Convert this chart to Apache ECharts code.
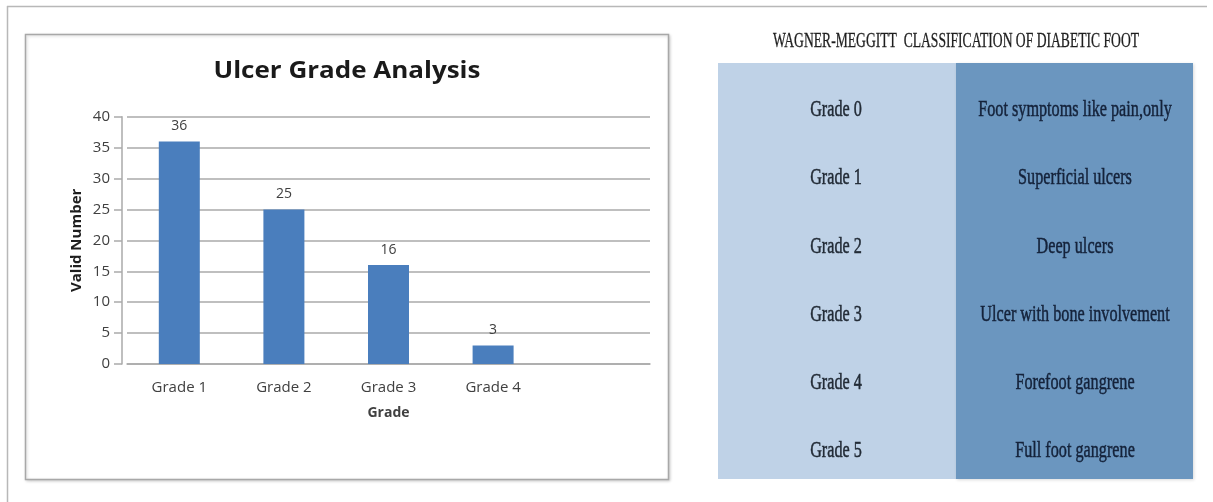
<!DOCTYPE html>
<html>
<head>
<meta charset="utf-8">
<title>Ulcer Grade Analysis</title>
<script src="https://cdn.jsdelivr.net/npm/echarts@6/dist/echarts.min.js"></script>
<style>
  html, body { margin: 0; padding: 0; background: #ffffff; }
  #main { width: 1213px; height: 502px; }
</style>
</head>
<body>
<div id="main"></div>
<script>
// Bar chart: ulcer grades observed in the study group
const chartTitle = 'Ulcer Grade Analysis';
const categories = ['Grade 1', 'Grade 2', 'Grade 3', 'Grade 4', ''];
const validNumbers = [36, 25, 16, 3, '-'];
const yTicks = { min: 0, max: 40, interval: 5 };

// Reference table: Wagner-Meggitt classification
const tableTitle = 'WAGNER-MEGGITT  CLASSIFICATION OF DIABETIC FOOT';
const wagnerGrades = ['Grade 0', 'Grade 1', 'Grade 2', 'Grade 3', 'Grade 4', 'Grade 5'];
const wagnerDescriptions = [
  'Foot symptoms like pain,only',
  'Superficial ulcers',
  'Deep ulcers',
  'Ulcer with bone involvement',
  'Forefoot gangrene',
  'Full foot gangrene'
];

const sans = '"Open Sans", "Liberation Sans", sans-serif';
const serif = '"Liberation Serif", "DejaVu Serif", serif';
const labelGray = '#404040';
const lineGray = '#aaaaaa';

// table layout
const table = { left: 718, top: 63, split: 956, right: 1193, bottom: 479 };
const rowFirst = 110, rowStep = 68.2;
const tableFont = '24px ' + serif;
const tableSquash = 0.675;

function tableText(text, x, y, fill) {
  return {
    type: 'text', x: x, y: y, scaleX: tableSquash, silent: true,
    style: { text: text, font: tableFont, fill: fill, stroke: fill, lineWidth: 0.5,
             align: 'center', verticalAlign: 'middle' }
  };
}

const graphics = [
  // outer border of the figure
  { type: 'line', shape: { x1: 7, y1: 6.5, x2: 1207, y2: 6.5 }, style: { stroke: '#b8b8b8', lineWidth: 1.5 }, silent: true },
  { type: 'line', shape: { x1: 7.5, y1: 6, x2: 7.5, y2: 502 }, style: { stroke: '#b8b8b8', lineWidth: 1.5 }, silent: true },
  // chart area frame
  { type: 'rect', z: -10, shape: { x: 25.5, y: 34.5, width: 643, height: 445 },
    style: { fill: '#ffffff', stroke: '#a8a8a8', lineWidth: 1.5, shadowBlur: 3, shadowColor: 'rgba(0,0,0,0.18)', shadowOffsetX: 1, shadowOffsetY: 1 }, silent: true },
  // chart heading
  { type: 'text', x: 347, y: 71, scaleX: 1.13, silent: true,
    style: { text: chartTitle, font: 'bold 23px ' + sans, fill: '#1a1a1a', align: 'center', verticalAlign: 'middle' } },
  // table columns
  { type: 'rect', shape: { x: table.left, y: table.top, width: table.split - table.left, height: table.bottom - table.top },
    style: { fill: '#bfd2e7' }, silent: true },
  { type: 'rect', shape: { x: table.split, y: table.top, width: table.right - table.split, height: table.bottom - table.top },
    style: { fill: '#6b96bf', shadowBlur: 3, shadowColor: 'rgba(0,0,0,0.15)', shadowOffsetX: 1, shadowOffsetY: 1 }, silent: true },
  // table heading
  { type: 'text', x: 956, y: 42, scaleX: 0.68, silent: true,
    style: { text: tableTitle, font: '20px ' + serif, fill: '#1e1e1e', stroke: '#1e1e1e', lineWidth: 0.3,
             align: 'center', verticalAlign: 'middle' } }
];

wagnerGrades.forEach(function (g, i) {
  const y = rowFirst + i * rowStep;
  graphics.push(tableText(g, 836, y, '#222b36'));
  graphics.push(tableText(wagnerDescriptions[i], 1075, y, '#14223a'));
});

const chart = echarts.init(document.getElementById('main'), null, { renderer: 'canvas' });
chart.setOption({
  animation: false,
  backgroundColor: '#ffffff',
  grid: { left: 127, top: 116.7, width: 523, height: 247.3, containLabel: false },
  xAxis: {
    type: 'category',
    data: categories,
    name: 'Grade',
    nameLocation: 'middle',
    nameGap: 42,
    nameTextStyle: { fontFamily: sans, fontSize: 14, fontWeight: 'bold', color: labelGray },
    axisLine: { lineStyle: { color: lineGray, width: 1.5 } },
    axisTick: { show: false },
    axisLabel: { fontFamily: sans, fontSize: 15, color: labelGray, margin: 16 },
    splitLine: { show: false }
  },
  yAxis: {
    type: 'value',
    min: yTicks.min, max: yTicks.max, interval: yTicks.interval,
    offset: 5,
    name: 'Valid Number',
    nameLocation: 'middle',
    nameGap: 38,
    nameTextStyle: { fontFamily: sans, fontSize: 15, fontWeight: 'bold', color: '#1e1e1e' },
    axisLine: { show: true, lineStyle: { color: lineGray, width: 1.5 } },
    axisTick: { show: true, length: 8, lineStyle: { color: lineGray, width: 1.5 } },
    axisLabel: { fontFamily: sans, fontSize: 15, color: labelGray, margin: 12 },
    splitLine: { show: true, lineStyle: { color: lineGray, width: 1.5 } }
  },
  series: [{
    type: 'bar',
    data: validNumbers,
    barWidth: 41,
    itemStyle: { color: '#4a7ebd' },
    label: {
      show: true, position: 'top', distance: 8,
      fontFamily: sans, fontSize: 14, color: labelGray
    }
  }],
  graphic: graphics
});
</script>
</body>
</html>
